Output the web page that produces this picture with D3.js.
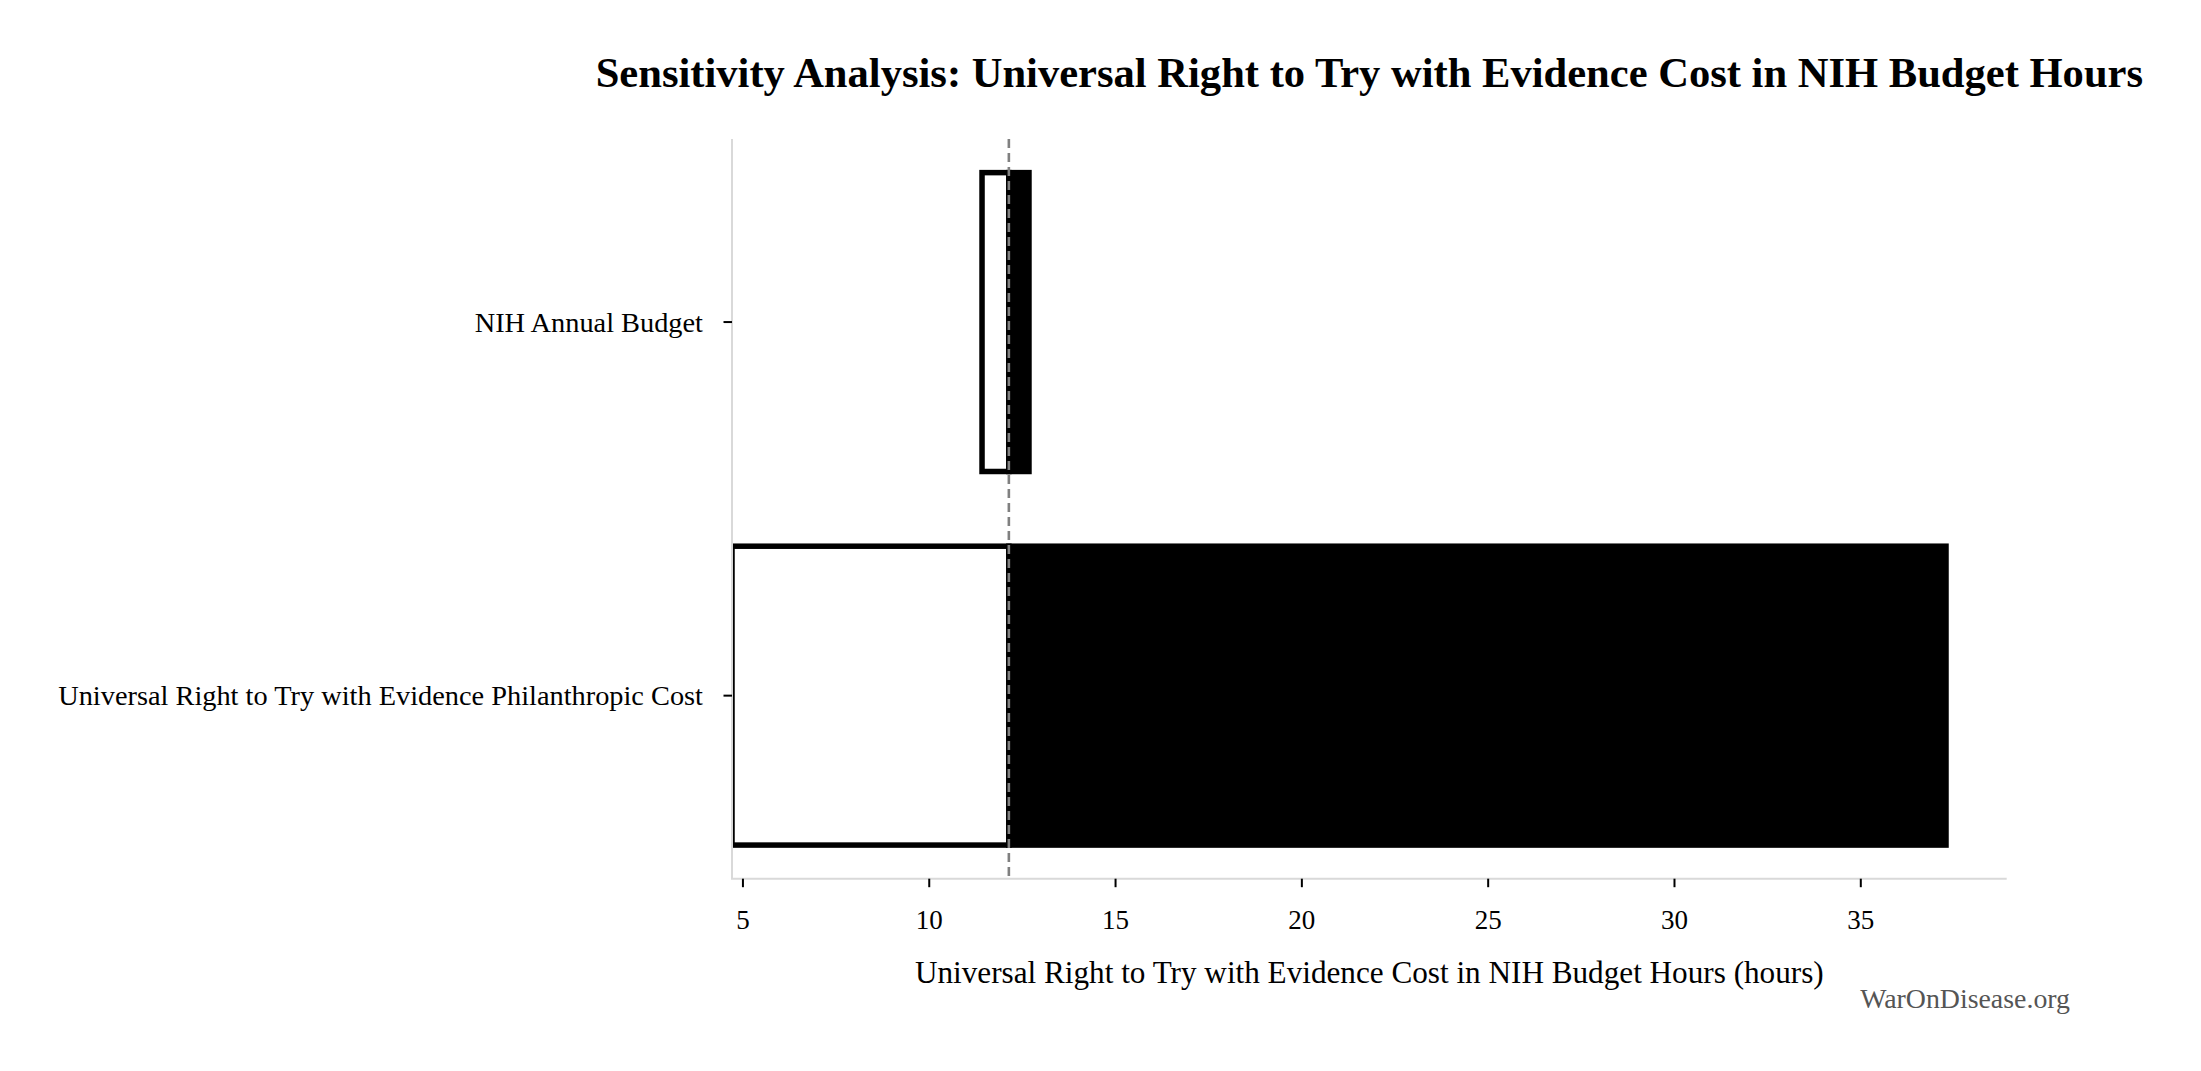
<!DOCTYPE html>
<html><head><meta charset="utf-8">
<script src="https://cdn.jsdelivr.net/npm/d3@7"></script>
<style>
body{margin:0;background:#fff}
text{font-family:"Liberation Serif","Times New Roman",serif}
</style>
</head><body>
<svg id="c" width="2201" height="1071"></svg>
<script>
// ---- data ----
const categories = ["NIH Annual Budget", "Universal Right to Try with Evidence Philanthropic Cost"];
const lowValues  = [11.43, 4.72];
const highValues = [12.69, 37.30];
const baseValue  = 12.15;
const xTicks     = [5, 10, 15, 20, 25, 30, 35];
const titleText  = "Sensitivity Analysis: Universal Right to Try with Evidence Cost in NIH Budget Hours";
const xLabelText = "Universal Right to Try with Evidence Cost in NIH Budget Hours (hours)";
const sourceText = "WarOnDisease.org";

// ---- layout ----
const L = 732, R = 2006.7, T = 139, B = 878.7;
const svg = d3.select("#c");

const xMin = d3.min(lowValues), xMax = d3.max(highValues);
const x = d3.scaleLinear().domain([xMin, xMax + 0.05 * (xMax - xMin)]).range([L, R]);
const y = d3.scaleBand().domain(categories).range([T, B]).paddingInner(0.2).paddingOuter(0.09);

function fit(sel, target) {
  const w = sel.node().getComputedTextLength();
  const fs = parseFloat(sel.attr("font-size"));
  sel.attr("font-size", fs * target / w);
}

// clip
svg.append("defs").append("clipPath").attr("id", "clip")
  .append("rect").attr("x", L).attr("y", T).attr("width", R - L).attr("height", B - T);

const rows = categories.map((c, i) => ({c, lo: lowValues[i], hi: highValues[i]}));
const g = svg.append("g").attr("clip-path", "url(#clip)");

// low side (white)
g.selectAll("rect.lo").data(rows).join("rect").attr("class", "lo")
  .attr("x", d => x(Math.min(d.lo, baseValue)))
  .attr("width", d => Math.abs(x(baseValue) - x(d.lo)))
  .attr("y", d => y(d.c)).attr("height", y.bandwidth())
  .attr("fill", "#fff").attr("stroke", "#000").attr("stroke-width", 5.5);
// high side (black)
g.selectAll("rect.hi").data(rows).join("rect").attr("class", "hi")
  .attr("x", d => x(baseValue))
  .attr("width", d => x(d.hi) - x(baseValue))
  .attr("y", d => y(d.c)).attr("height", y.bandwidth())
  .attr("fill", "#000").attr("stroke", "#000").attr("stroke-width", 5.5);

// baseline dashed
svg.append("line")
  .attr("x1", x(baseValue)).attr("x2", x(baseValue)).attr("y1", T).attr("y2", B)
  .attr("stroke", "#808080").attr("stroke-width", 2.6).attr("stroke-dasharray", "9,5");

// spines
svg.append("line").attr("x1", L).attr("x2", L).attr("y1", T).attr("y2", B)
  .attr("stroke", "#d9d9d9").attr("stroke-width", 2);
svg.append("line").attr("x1", L - 1).attr("x2", R).attr("y1", B).attr("y2", B)
  .attr("stroke", "#d9d9d9").attr("stroke-width", 2);

// x axis
const xa = svg.append("g").attr("transform", `translate(0,${B})`)
  .call(d3.axisBottom(x).tickValues(xTicks).tickFormat(d3.format("d")).tickSize(8.5).tickPadding(20));
xa.select(".domain").remove();
xa.selectAll(".tick line").attr("stroke", "#000").attr("stroke-width", 2);
xa.selectAll(".tick text").attr("font-size", 27).attr("fill", "#000")
  .attr("font-family", '"Liberation Serif",serif').attr("dy", null).attr("y", 50.6);

// y axis
const ya = svg.append("g").attr("transform", `translate(${L},0)`)
  .call(d3.axisLeft(y).tickSize(8.5).tickPadding(20));
ya.select(".domain").remove();
ya.selectAll(".tick line").attr("stroke", "#000").attr("stroke-width", 2);
ya.selectAll(".tick text").attr("font-size", 26).attr("fill", "#000")
  .attr("font-family", '"Liberation Serif",serif').attr("dy", null).attr("y", 9.6)
  .attr("x", -29);
// fit the longest y label to measured width, apply same size to all
const longest = ya.selectAll(".tick text").filter(d => d === categories[1]);
fit(longest, 645);
ya.selectAll(".tick text").attr("font-size", longest.attr("font-size"));

// title
const title = svg.append("text").attr("x", (L + R) / 2).attr("y", 87)
  .attr("text-anchor", "middle").attr("font-weight", "bold").attr("font-size", 38)
  .attr("fill", "#000").text(titleText);
fit(title, 1548);

// x label
const xl = svg.append("text").attr("x", (L + R) / 2).attr("y", 983)
  .attr("text-anchor", "middle").attr("font-size", 28).attr("fill", "#000").text(xLabelText);
fit(xl, 909);

// source
const src = svg.append("text").attr("x", 2070).attr("y", 1008)
  .attr("text-anchor", "end").attr("font-size", 26).attr("fill", "#555").text(sourceText);
fit(src, 210);
</script>
</body></html>
